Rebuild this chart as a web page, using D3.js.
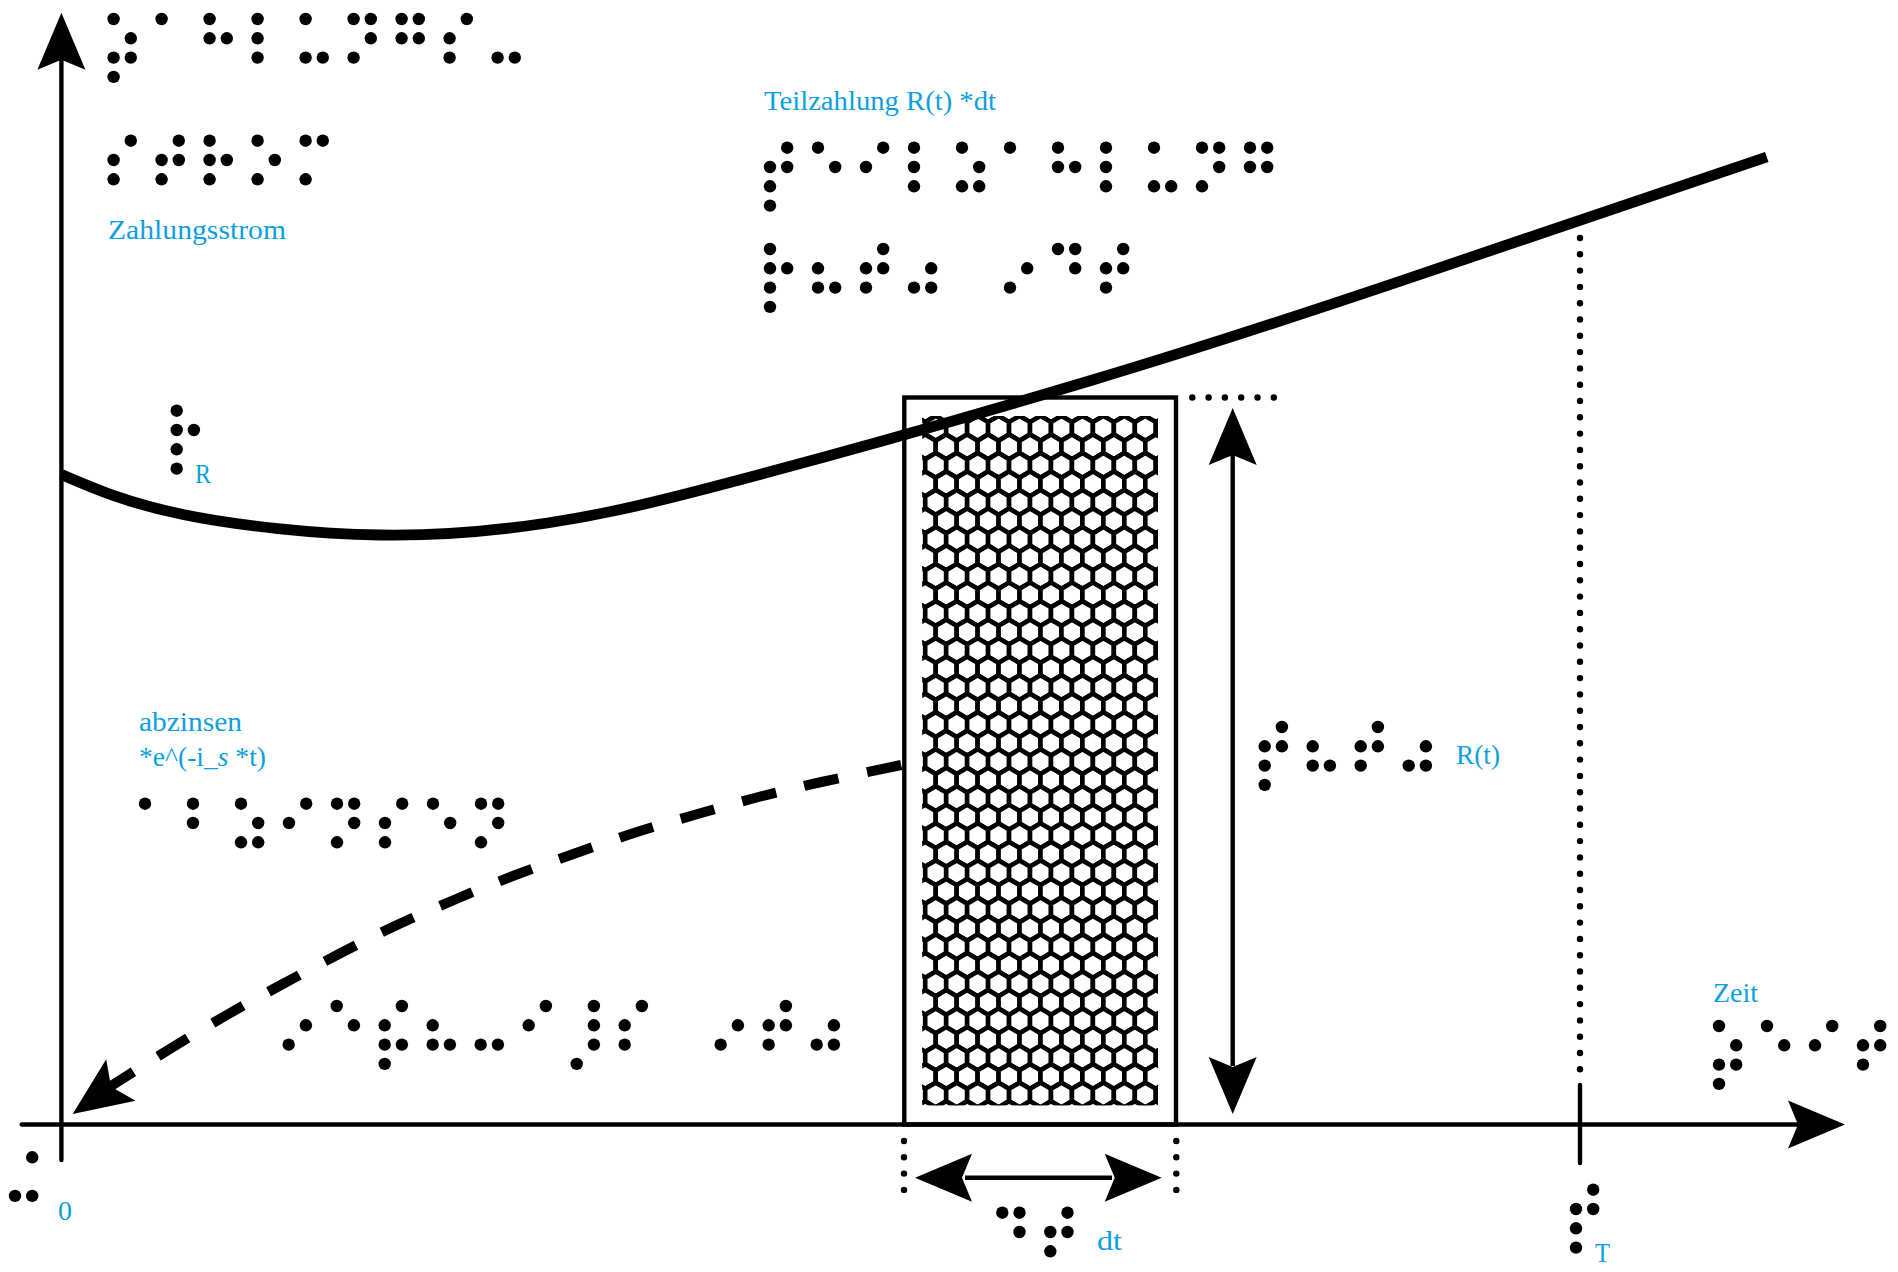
<!DOCTYPE html>
<html><head><meta charset="utf-8">
<style>html,body{margin:0;padding:0;background:#fff}svg{display:block}text{font-family:"Liberation Serif",serif;fill:#0c9fe0}</style>
<script src="https://cdn.jsdelivr.net/npm/d3@7/dist/d3.min.js"></script>
</head><body>
<script>
// Payment stream R(t): time t (T = 100), amount R
const streamT = [0, 8, 21, 32, 44, 67.9, 88, 112.3];
const streamR = [65, 61.0, 58.95, 60.15, 64.2, 74.45, 84.25, 96.75];
// Discounting path, dashed, read from right to left
const discountT = [55.3, 50.05, 45.9, 41.9, 37.9, 33.9, 29.9, 26, 22.1, 18.4, 14.7, 11, 7.35, 4.1, 2.54];
const discountR = [35.95, 34.25, 32.75, 31.05, 29.25, 27.15, 24.95, 22.55, 19.95, 17.15, 14.15, 11.05, 7.75, 4.65, 3.15];
// Slice of width dt at time t
const sliceR = 72.7;
const axisTicks = [0, 100];

// Braille cells: digits are raised dots (1,2,3,7 left column; 4,5,6,8 right column)
const brZahlung1 = ["15367","1","125","123","136","1453","1425","423","36"];
const brZahlung2 = ["423","4253","1253","153","143"];
const brTeil1 = ["42537","15","42","123","1536","1","125","123","136","1453","1425"];
const brTeil2 = ["12537","236","4253","536","","53","145","4253"];
const brAbz = ["1","12","1536","42","1453","423","15","1453"];
const brBar = ["35","15","42367","236","36","42","7456","234","","35","4253","356"];
const brRt = ["42537","236","4253","536"];
const brR = ["12537"];
const brZero = ["436"];
const brT = ["42537"];
const brZeit = ["15367","15","42","4253"];
const brDt = ["145","4253"];

const labelTexts = ["Zahlungsstrom","Teilzahlung R(t) *dt","abzinsen","R(t)","R","0","dt","T","Zeit"];

const W = 1898, H = 1272;
const svg = d3.select("body").append("svg").attr("width", W).attr("height", H).attr("viewBox", `0 0 ${W} ${H}`);
const x = d3.scaleLinear().domain([0, 100]).range([61.4, 1580]);
const y = d3.scaleLinear().domain([0, 100]).range([1124.5, 124.5]);

function head(tx, ty, ang, len = 57, half = 24, notch = 47) {
  const c = Math.cos(ang), s = Math.sin(ang);
  const p = (a, b) => [tx + a * c - b * s, ty + a * s + b * c];
  return "M" + [p(0, 0), p(-len, half), p(-notch, 0), p(-len, -half)].map(d => d.join(",")).join("L") + "Z";
}
const black = "#000";
function seg(x1, y1, x2, y2, w = 4.4, cap = "butt") {
  svg.append("line").attr("x1", x1).attr("y1", y1).attr("x2", x2).attr("y2", y2)
    .attr("stroke", black).attr("stroke-width", w).attr("stroke-linecap", cap);
}

// Slice rectangle
const rL = 904.3, rR = 1176, rT = y(sliceR), rB = y(0);
svg.append("rect").attr("x", rL).attr("y", rT).attr("width", rR - rL).attr("height", rB - rT)
  .attr("fill", "#fff").attr("stroke", black).attr("stroke-width", 4.4);

// Honeycomb fill
const hx0 = 922.3, hx1 = 1158, hy0 = 416, hy1 = 1105.3;
svg.append("clipPath").attr("id", "hc").append("rect")
  .attr("x", hx0).attr("y", hy0).attr("width", hx1 - hx0).attr("height", hy1 - hy0);
const gHex = svg.append("g").attr("clip-path", "url(#hc)");
const hw = 20.96, hh = 18.52, hr = 12.35;
const hexLine = d3.line();
d3.range(-1, 38).forEach(r => {
  d3.range(-2, 14).forEach(c => {
    const cx = 935.7 + c * hw + (r % 2 ? hw / 2 : 0), cy = 428.3 + r * hh;
    const pts = [[0,-hr],[hw/2,-hr/2],[hw/2,hr/2],[0,hr],[-hw/2,hr/2],[-hw/2,-hr/2]].map(p => [cx + p[0], cy + p[1]]);
    gHex.append("path").attr("d", hexLine(pts) + "Z").attr("fill", "#fff").attr("stroke", black).attr("stroke-width", 4.6);
  });
});

// Stream curve
const curveS = d3.line().x(d => x(d[0])).y(d => y(d[1])).curve(d3.curveNatural);
svg.append("path").attr("d", curveS(d3.zip(streamT, streamR))).attr("fill", "none").attr("stroke", black).attr("stroke-width", 10.8);

// Discount path
const curveD = d3.line().x(d => x(d[0])).y(d => y(d[1])).curve(d3.curveCatmullRom.alpha(0.5));
svg.append("path").attr("d", curveD(d3.zip(discountT, discountR))).attr("fill", "none").attr("stroke", black)
  .attr("stroke-width", 10).attr("stroke-dasharray", "35 29");
svg.append("path").attr("d", head(72.7, 1114, Math.atan2(34.1, -48.2), 59, 25.4, 47)).attr("fill", black);

// Axes
seg(x(0), 1160, x(0), 60, 4.4, "round");
svg.append("path").attr("d", head(x(0), 12.7, -Math.PI / 2)).attr("fill", black);
seg(21.7, y(0), 1800, y(0), 4.4, "round");
svg.append("path").attr("d", head(1845, y(0), 0)).attr("fill", black);
seg(x(axisTicks[1]), 1085, x(axisTicks[1]), 1163, 4.4, "round");

// Height arrow
seg(1232.7, 418, 1232.7, 1066);
svg.append("path").attr("d", head(1232.7, 408, -Math.PI / 2)).attr("fill", black);
svg.append("path").attr("d", head(1232.7, 1114, Math.PI / 2)).attr("fill", black);
// Width arrow
seg(965, 1177.7, 1112, 1177.7);
svg.append("path").attr("d", head(915, 1177.7, Math.PI)).attr("fill", black);
svg.append("path").attr("d", head(1161.7, 1177.7, 0)).attr("fill", black);

// Dotted guides
const guide = (pts) => svg.append("g").selectAll("circle").data(pts).join("circle")
  .attr("cx", d => d[0]).attr("cy", d => d[1]).attr("r", 3.2).attr("fill", black);
guide(d3.range(52).map(i => [x(100), 1069.3 - i * 16.3]));
guide(d3.range(6).map(i => [1192.3 + i * 16.3, rT]));
guide(d3.range(4).flatMap(i => [[904, 1141 + i * 16.3], [1176.3, 1141 + i * 16.3]]));

// Braille
const dotPos = { "1":[0,0], "2":[0,1], "3":[0,2], "7":[0,3], "4":[1,0], "5":[1,1], "6":[1,2], "8":[1,3] };
function braille(cells, x0, y0) {
  const g = svg.append("g");
  cells.forEach((cell, i) => {
    for (const ch of cell) {
      const [cx, cy] = dotPos[ch];
      g.append("circle").attr("cx", x0 + i * 48 + cx * 17.2).attr("cy", y0 + cy * 19.3).attr("r", 6.2).attr("fill", black);
    }
  });
}
braille(brZahlung1, 113.6, 19);
braille(brZahlung2, 113.6, 140.7);
braille(brTeil1, 770, 147.7);
braille(brTeil2, 770, 249);
braille(brAbz, 145, 803.7);
braille(brBar, 288.7, 1006);
braille(brRt, 1264.7, 727);
braille(brR, 176.7, 410.7);
braille(brZero, 15, 1157.3);
braille(brT, 1576, 1189.7);
braille(brZeit, 1719, 1026);
braille(brDt, 1002.3, 1212.7);

// Labels
const lab = (t, px, py, len, fs = 27) => svg.append("text").attr("x", px).attr("y", py).attr("font-size", fs)
  .attr("textLength", len).attr("lengthAdjust", "spacingAndGlyphs").text(t);
lab(labelTexts[0], 108, 239, 178);
lab(labelTexts[1], 764, 110, 232);
lab(labelTexts[2], 139, 731, 103);
const t2 = svg.append("text").attr("x", 139).attr("y", 765.7).attr("font-size", 27).attr("textLength", 127).attr("lengthAdjust", "spacingAndGlyphs");
t2.append("tspan").text("*e^(-i_");
t2.append("tspan").attr("font-style", "italic").text("s");
t2.append("tspan").text(" *t)");
lab(labelTexts[3], 1456, 764, 44);
lab(labelTexts[4], 195, 482.7, 16);
lab(labelTexts[5], 58, 1220, 14);
lab(labelTexts[6], 1097, 1250, 25);
lab(labelTexts[7], 1595, 1261.7, 15);
lab(labelTexts[8], 1713, 1001.7, 45);
</script>
</body></html>
